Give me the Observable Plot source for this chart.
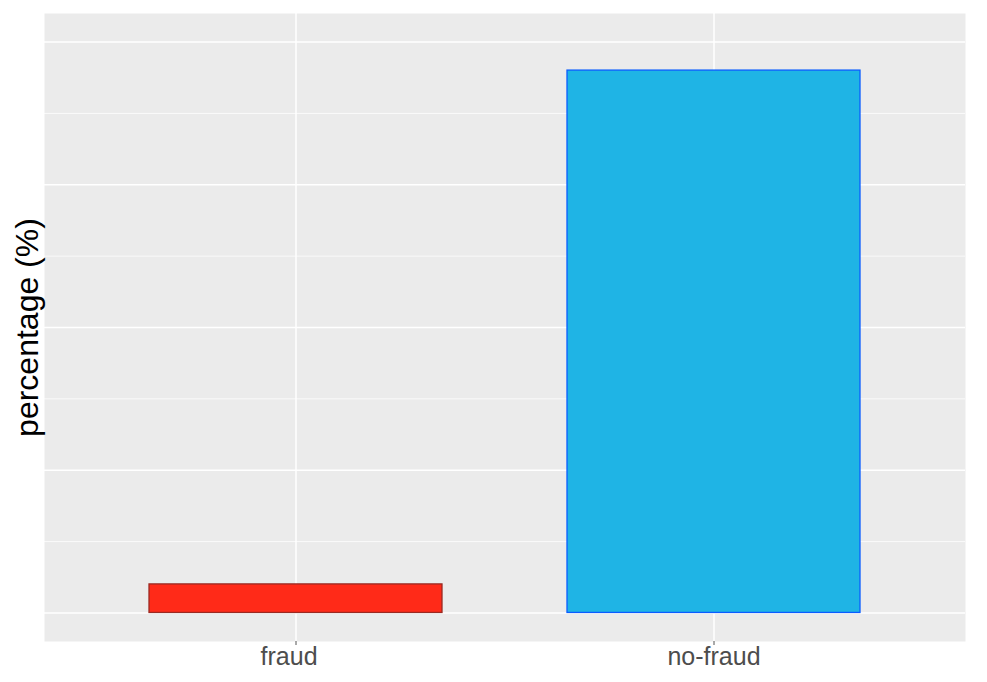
<!DOCTYPE html>
<html>
<head>
<meta charset="utf-8">
<script src="https://cdn.jsdelivr.net/npm/d3@7"></script>
<script src="https://cdn.jsdelivr.net/npm/@observablehq/plot@0.6"></script>
<style>
  html, body { margin: 0; padding: 0; background: #ffffff; }
  #chart svg { display: block; font-family: "Liberation Sans", Arial, Helvetica, sans-serif; }
</style>
</head>
<body>
<div id="chart"></div>
<script>
const categories = ["fraud", "no-fraud"];
const tickLabels = ["fraud\u00a0\u00a0", "no-fraud"];
const percentages = [5, 95];
const fills = ["#FF2A18", "#1FB4E5"];
const strokes = ["#9A2A22", "#0A5CFF"];
const majorTicks = [0, 25, 50, 75, 100];
const minorTicks = [12.5, 37.5, 62.5, 87.5];
const yLabel = "percentage (%)";

const data = categories.map((c, i) => ({cls: c, pct: percentages[i], fill: fills[i], stroke: strokes[i]}));

const plot = Plot.plot({
  width: 987,
  height: 682,
  marginLeft: 44,
  marginRight: 22,
  marginTop: 13,
  marginBottom: 41,
  style: {fontFamily: '"Liberation Sans", Arial, Helvetica, sans-serif', background: "#ffffff"},
  x: {type: "band", domain: categories, paddingInner: 0.3, paddingOuter: 0.25, label: null},
  y: {domain: [-5, 105], axis: null},
  marks: [
    Plot.frame({fill: "#EBEBEB", stroke: "none"}),
    Plot.gridY(minorTicks, {stroke: "#ffffff", strokeOpacity: 1, strokeWidth: 0.75}),
    Plot.gridY(majorTicks, {stroke: "#ffffff", strokeOpacity: 1, strokeWidth: 1.5}),
    Plot.gridX({stroke: "#ffffff", strokeOpacity: 1, strokeWidth: 1.5}),
    Plot.barY(data, {x: "cls", y: "pct", fill: (d) => d.fill, stroke: (d) => d.stroke, strokeWidth: 1.3}),
    Plot.axisX({tickSize: 4, tickPadding: 2, fontSize: 25, color: "#4D4D4D", stroke: "#555555", label: null,
      tickFormat: (d) => tickLabels[categories.indexOf(d)]}),
    Plot.text([yLabel], {frameAnchor: "left", rotate: -90, textAnchor: "middle", dx: -17, fontSize: 32, fill: "#000000"})
  ]
});

document.getElementById("chart").appendChild(plot);
</script>
</body>
</html>
